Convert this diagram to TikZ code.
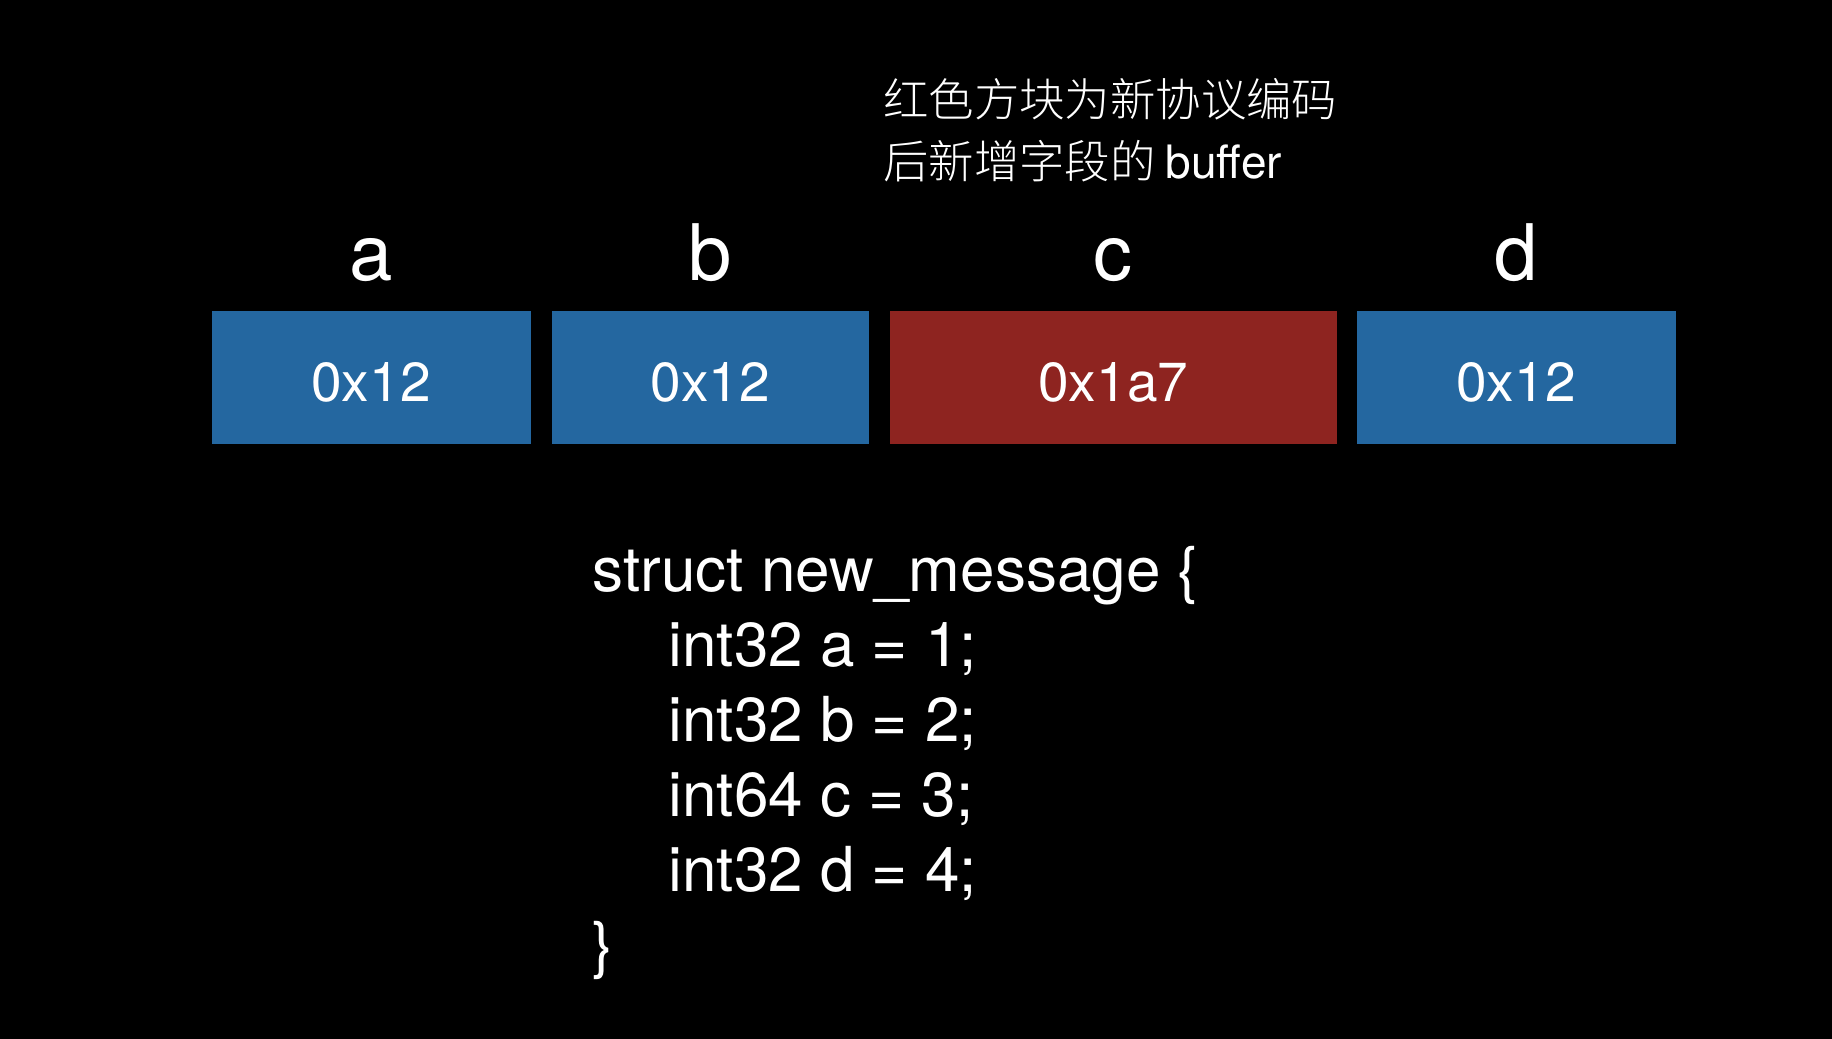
\documentclass[tikz,border=0pt]{standalone}
\usepackage{fontspec}
\setmainfont{TeX Gyre Heros}
\newfontfamily\cjk{Noto Sans CJK SC}[UprightFont={* Light}]
\definecolor{boxblue}{HTML}{2467A0}
\definecolor{boxred}{HTML}{8E2420}
\begin{document}
\begin{tikzpicture}[x=1pt,y=-1pt,
  celltext/.style={text=white,inner sep=0pt,anchor=base,font=\fontsize{55}{55}\selectfont},
  fieldname/.style={text=white,inner sep=0pt,anchor=base,font=\fontsize{78}{78}\selectfont}]
\fill[black] (0,0) rectangle (1832,1039);
\useasboundingbox (0,0) rectangle (1832,1039);
% note (anchored at the baseline of its last line)
\node[text=white,inner sep=0pt,anchor=base west,align=left,
  font=\cjk\fontsize{45.4}{62}\selectfont] (note) at (883,178)
  {红色方块为新协议编码\\后新增字段的 {\rmfamily\fontsize{46}{62}\selectfont buffer}};
% boxes
\fill[boxblue] (211.5,311) rectangle (530.5,444);
\fill[boxblue] (551.5,311) rectangle (869,444);
\fill[boxred]  (890,311) rectangle (1336.6,444);
\fill[boxblue] (1356.5,311) rectangle (1675.5,444);
\node[celltext] (va) at (371,401) {0x12};
\node[celltext] (vb) at (710.25,401) {0x12};
\node[celltext] (vc) at (1113.3,401) {0x1a7};
\node[celltext] (vd) at (1516,401) {0x12};
% field names
\node[fieldname] (na) at (371,280) {a};
\node[fieldname] (nb) at (710.25,280) {b};
\node[fieldname] (nc) at (1113.3,280) {c};
\node[fieldname] (nd) at (1516,280) {d};
% code (anchored at the baseline of its last line)
\node[text=white,inner sep=0pt,anchor=base west,align=left,
  font=\fontsize{62}{75}\selectfont] (code) at (592.6,966.7)
  {struct new\_message \{\\
   \hspace*{75.8pt}int32 a = 1;\\
   \hspace*{75.8pt}int32 b = 2;\\
   \hspace*{75.8pt}int64 c = 3;\\
   \hspace*{75.8pt}int32 d = 4;\\
   \}};
\end{tikzpicture}
\end{document}
